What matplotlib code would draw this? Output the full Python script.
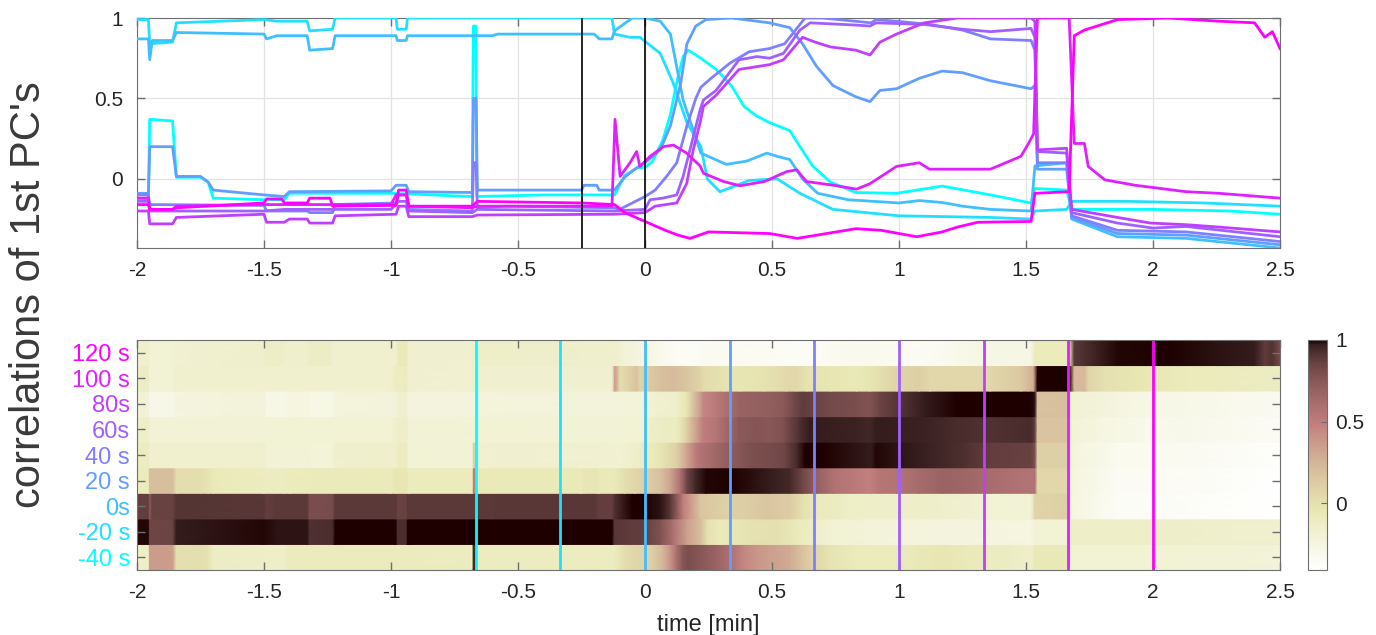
import numpy as np
import matplotlib
matplotlib.use('Agg')
import matplotlib.pyplot as plt
from matplotlib import colors

plt.rcParams['font.family'] = ['Liberation Sans', 'DejaVu Sans']
plt.rcParams['axes.unicode_minus'] = False

# lag labels of the 9 windows (bottom row first) and window centres [min]
lag_labels = ['-40 s', '-20 s', '0s', '20 s', '40 s', '60s', '80s', '100 s', '120 s']
window_centres = [-2/3, -1/3, 0, 1/3, 2/3, 1, 4/3, 5/3, 2]
event_times = [-0.25, 0]

# correlation traces: (time [min], correlation)
corr_m40 = [(-2.0, -0.13), (-1.955, -0.13), (-1.95, 0.37), (-1.86, 0.36), (-1.845, 0.01), (-1.75, 0.01),
            (-1.72, -0.02), (-1.70, -0.12), (-1.5, -0.13), (-1.42, -0.13), (-1.40, -0.09), (-1.0, -0.09),
            (-0.68, -0.11), (-0.676, 0.95), (-0.666, 0.95), (-0.662, -0.11), (-0.4, -0.10), (-0.12, -0.10),
            (-0.08, 0.02), (-0.03, 0.07), (0.0, 0.07), (0.03, 0.11), (0.07, 0.24), (0.10, 0.40), (0.125, 0.60),
            (0.15, 0.76), (0.17, 0.80), (0.22, 0.75), (0.28, 0.68), (0.34, 0.58), (0.39, 0.45), (0.44, 0.39),
            (0.49, 0.35), (0.57, 0.30), (0.61, 0.20), (0.66, 0.08), (0.73, -0.02), (0.83, -0.085), (0.99, -0.09),
            (1.17, -0.045), (1.36, -0.10), (1.52, -0.15), (1.535, -0.06), (1.66, -0.07), (1.68, -0.19),
            (1.75, -0.19), (2.0, -0.19), (2.3, -0.20), (2.5, -0.22)]
corr_m20 = [(-2.0, 0.99), (-1.955, 0.99), (-1.95, 0.84), (-1.86, 0.85), (-1.845, 0.97), (-1.5, 0.99),
            (-1.45, 0.98), (-1.33, 0.98), (-1.32, 0.92), (-1.23, 0.93), (-1.22, 1.0), (-0.98, 1.0),
            (-0.975, 0.93), (-0.94, 0.93), (-0.935, 1.0), (-0.13, 1.0), (-0.12, 0.90), (-0.06, 0.88),
            (-0.02, 0.88), (0.06, 0.78), (0.11, 0.60), (0.165, 0.35), (0.22, 0.20), (0.245, 0.0),
            (0.295, -0.08), (0.41, -0.01), (0.52, 0.0), (0.61, -0.09), (0.74, -0.19), (1.0, -0.23),
            (1.36, -0.24), (1.52, -0.25), (1.535, -0.20), (1.66, -0.19), (1.68, -0.14), (1.9, -0.14),
            (2.2, -0.15), (2.5, -0.17)]
corr_0 = [(-2.0, 0.87), (-1.955, 0.87), (-1.95, 0.74), (-1.94, 0.86), (-1.86, 0.86), (-1.845, 0.91),
          (-1.5, 0.90), (-1.49, 0.87), (-1.45, 0.89), (-1.33, 0.89), (-1.32, 0.80), (-1.23, 0.81),
          (-1.22, 0.89), (-0.98, 0.89), (-0.975, 0.86), (-0.94, 0.86), (-0.935, 0.89), (-0.6, 0.89),
          (-0.58, 0.90), (-0.2, 0.90), (-0.18, 0.87), (-0.13, 0.87), (-0.12, 0.92), (-0.05, 1.0),
          (0.0, 1.0), (0.06, 0.98), (0.10, 0.90), (0.15, 0.49), (0.22, 0.16), (0.32, 0.09), (0.40, 0.11),
          (0.48, 0.16), (0.52, 0.14), (0.57, 0.12), (0.62, 0.0), (0.68, -0.09), (0.8, -0.13), (1.0, -0.15),
          (1.08, -0.135), (1.17, -0.147), (1.25, -0.17), (1.36, -0.19), (1.52, -0.20), (1.535, 0.08),
          (1.66, 0.10), (1.68, -0.25), (1.86, -0.36), (2.13, -0.37), (2.5, -0.43)]
corr_20 = [(-2.0, -0.09), (-1.955, -0.09), (-1.95, 0.20), (-1.86, 0.20), (-1.845, 0.015), (-1.75, 0.015),
           (-1.72, -0.02), (-1.70, -0.07), (-1.5, -0.10), (-1.42, -0.11), (-1.40, -0.08), (-1.0, -0.075),
           (-0.98, -0.04), (-0.94, -0.04), (-0.93, -0.08), (-0.68, -0.085), (-0.675, 0.5), (-0.665, 0.5),
           (-0.66, -0.07), (-0.25, -0.07), (-0.24, -0.04), (-0.19, -0.04), (-0.18, -0.07), (-0.12, -0.07),
           (-0.08, 0.01), (-0.04, 0.06), (0.0, 0.10), (0.06, 0.18), (0.10, 0.33), (0.14, 0.59), (0.165, 0.84),
           (0.20, 0.95), (0.24, 0.99), (0.34, 1.0), (0.49, 0.97), (0.57, 0.94), (0.62, 0.84), (0.675, 0.70),
           (0.74, 0.58), (0.83, 0.51), (0.886, 0.48), (0.925, 0.55), (0.99, 0.56), (1.08, 0.625), (1.17, 0.67),
           (1.25, 0.66), (1.36, 0.61), (1.52, 0.56), (1.535, 0.58), (1.545, 0.06), (1.66, 0.06), (1.68, -0.24),
           (1.86, -0.34), (2.13, -0.35), (2.5, -0.41)]
corr_40 = [(-2.0, -0.10), (-1.955, -0.10), (-1.95, -0.16), (-1.5, -0.165), (-1.49, -0.20), (-1.33, -0.20),
           (-1.32, -0.21), (-1.23, -0.21), (-1.22, -0.16), (-0.98, -0.15), (-0.97, -0.10), (-0.94, -0.10),
           (-0.93, -0.19), (-0.68, -0.20), (-0.675, 0.10), (-0.665, 0.10), (-0.66, -0.18), (-0.55, -0.17),
           (-0.12, -0.18), (-0.10, -0.19), (0.0, -0.11), (0.04, -0.07), (0.085, 0.015), (0.125, 0.10),
           (0.165, 0.33), (0.20, 0.50), (0.22, 0.57), (0.26, 0.625), (0.335, 0.72), (0.41, 0.79), (0.49, 0.81),
           (0.55, 0.84), (0.60, 0.94), (0.63, 1.0), (0.70, 1.0), (0.89, 0.97), (0.91, 0.99), (0.99, 0.98),
           (1.12, 0.96), (1.25, 0.925), (1.36, 0.87), (1.52, 0.86), (1.535, 0.80), (1.545, 0.10), (1.66, 0.10),
           (1.68, -0.23), (1.86, -0.32), (2.13, -0.33), (2.5, -0.39)]
corr_60 = [(-2.0, -0.14), (-1.955, -0.14), (-1.95, -0.20), (-1.5, -0.20), (-1.42, -0.19), (-1.0, -0.19),
           (-0.97, -0.14), (-0.94, -0.14), (-0.93, -0.20), (-0.68, -0.21), (-0.66, -0.19), (-0.12, -0.20),
           (0.0, -0.19), (0.02, -0.13), (0.07, -0.12), (0.125, -0.10), (0.15, 0.015), (0.177, 0.18),
           (0.217, 0.43), (0.23, 0.49), (0.28, 0.55), (0.37, 0.74), (0.44, 0.76), (0.49, 0.75), (0.545, 0.78),
           (0.61, 0.925), (0.65, 0.97), (0.83, 0.956), (0.886, 0.95), (0.91, 0.97), (1.1, 0.96), (1.25, 0.93),
           (1.36, 0.915), (1.52, 0.935), (1.535, 0.88), (1.545, 0.17), (1.66, 0.16), (1.68, -0.21),
           (1.86, -0.275), (2.0, -0.306), (2.13, -0.296), (2.5, -0.36)]
corr_80 = [(-2.0, -0.20), (-1.955, -0.20), (-1.95, -0.28), (-1.86, -0.28), (-1.845, -0.24), (-1.5, -0.22),
           (-1.49, -0.27), (-1.42, -0.27), (-1.40, -0.25), (-1.33, -0.25), (-1.32, -0.275), (-1.23, -0.275),
           (-1.22, -0.23), (-0.98, -0.22), (-0.97, -0.17), (-0.94, -0.17), (-0.93, -0.235), (-0.68, -0.235),
           (-0.66, -0.225), (-0.12, -0.22), (0.0, -0.21), (0.04, -0.17), (0.125, -0.15), (0.164, -0.03),
           (0.19, 0.18), (0.217, 0.35), (0.23, 0.45), (0.28, 0.52), (0.37, 0.68), (0.49, 0.71), (0.545, 0.74),
           (0.62, 0.88), (0.67, 0.85), (0.73, 0.82), (0.83, 0.80), (0.886, 0.77), (0.925, 0.85), (0.99, 0.90),
           (1.1, 0.97), (1.23, 1.0), (1.52, 1.0), (1.535, 0.98), (1.545, 0.18), (1.66, 0.19), (1.68, -0.19),
           (1.86, -0.24), (1.99, -0.275), (2.13, -0.285), (2.26, -0.30), (2.5, -0.33)]
corr_100 = [(-2.0, -0.12), (-1.955, -0.12), (-1.95, -0.19), (-1.86, -0.19), (-1.845, -0.17), (-1.5, -0.16),
            (-1.0, -0.16), (-0.98, -0.10), (-0.94, -0.10), (-0.93, -0.17), (-0.68, -0.18), (-0.66, -0.17),
            (-0.13, -0.17), (-0.118, 0.37), (-0.098, 0.015), (-0.059, 0.10), (-0.033, 0.17), (-0.02, 0.077),
            (0.02, 0.14), (0.072, 0.20), (0.112, 0.21), (0.164, 0.16), (0.217, 0.08), (0.23, 0.035),
            (0.31, -0.017), (0.374, -0.043), (0.47, -0.017), (0.558, 0.045), (0.597, 0.056), (0.636, -0.017),
            (0.73, -0.037), (0.833, -0.064), (0.886, -0.03), (0.99, 0.077), (1.08, 0.10), (1.12, 0.06),
            (1.36, 0.06), (1.48, 0.14), (1.51, 0.22), (1.53, 0.28), (1.545, 1.0), (1.67, 1.0), (1.69, 0.22),
            (1.73, 0.22), (1.745, 0.077), (1.81, -0.006), (1.93, -0.04), (2.13, -0.08), (2.26, -0.09),
            (2.5, -0.12)]
corr_120 = [(-2.0, -0.16), (-1.955, -0.16), (-1.95, -0.19), (-1.86, -0.19), (-1.845, -0.18), (-1.5, -0.15),
            (-1.49, -0.125), (-1.43, -0.125), (-1.42, -0.15), (-1.33, -0.15), (-1.32, -0.12), (-1.24, -0.12),
            (-1.23, -0.17), (-0.98, -0.165), (-0.97, -0.07), (-0.94, -0.07), (-0.93, -0.17), (-0.68, -0.17),
            (-0.66, -0.14), (-0.25, -0.15), (-0.12, -0.16), (-0.08, -0.21), (0.0, -0.265), (0.08, -0.32),
            (0.13, -0.35), (0.177, -0.37), (0.25, -0.33), (0.49, -0.34), (0.6, -0.37), (0.83, -0.31),
            (0.93, -0.32), (1.07, -0.36), (1.17, -0.33), (1.23, -0.30), (1.31, -0.27), (1.52, -0.265),
            (1.535, -0.09), (1.67, -0.08), (1.69, 0.89), (1.73, 0.925), (1.86, 0.99), (2.06, 1.0),
            (2.26, 0.98), (2.4, 0.97), (2.44, 0.88), (2.47, 0.915), (2.5, 0.81)]

series = [corr_m40, corr_m20, corr_0, corr_20, corr_40, corr_60, corr_80, corr_100, corr_120]

if __name__ == "__main__":

    W, H = 1376, 635
    cols = plt.cm.cool(np.linspace(0, 1, len(series)))
    norm = colors.Normalize(vmin=-0.41, vmax=1)
    cmap = plt.get_cmap('pink_r')
    axcol = '#6e6e6e'
    txtcol = '#262626'

    fig = plt.figure(figsize=(W/100, H/100), dpi=100)
    ax1 = fig.add_axes([137/W, 1-248/H, 1143/W, 230/H])
    ax2 = fig.add_axes([137/W, 1-570/H, 1143/W, 230/H])
    cax = fig.add_axes([1308/W, 1-570/H, 19/W, 230/H])

    for i, s in enumerate(series):
        t, v = np.array(s).T
        ax1.plot(t, v, color=cols[i], lw=2.0, zorder=3)
        yy = np.vstack([np.full_like(t, i - 0.5), np.full_like(t, i + 0.5)])
        ax2.pcolormesh(np.vstack([t, t]), yy, np.vstack([v, v]), shading='gouraud',
                       cmap=cmap, norm=norm)

    for te in event_times:
        ax1.axvline(te, color='k', lw=1.2, zorder=4)
    for i, tc in enumerate(window_centres):
        ax2.axvline(tc, color=cols[i], lw=2)

    xt = np.arange(-2, 2.51, 0.5)
    for ax in (ax1, ax2):
        ax.set_xlim(-2, 2.5)
        ax.set_xticks(xt)
        ax.set_xticklabels([f'{x:g}' for x in xt])
        ax.tick_params(direction='in', top=True, right=True, length=6, width=1,
                       labelsize=15, color=axcol, labelcolor=txtcol)
        ax.tick_params(axis='x', pad=9)
        for sp in ax.spines.values():
            sp.set_color(axcol)

    ax1.set_ylim(-0.43, 1)
    ax1.set_yticks([0, 0.5, 1])
    ax1.set_yticklabels(['0', '0.5', '1'])
    ax1.tick_params(axis='y', pad=10)
    ax1.grid(True, color='#e3e3e3', lw=0.9, zorder=0)
    ax1.set_axisbelow(True)

    ax2.set_ylim(-0.5, len(series) - 0.5)
    ax2.set_yticks(range(len(series)))
    ax2.set_yticklabels(lag_labels)
    ax2.tick_params(axis='y', labelsize=17, pad=5)
    for lab, c in zip(ax2.get_yticklabels(), cols):
        lab.set_color(c)
    ax2.set_xlabel('time [min]', fontsize=17, color=txtcol, labelpad=9)

    sm = plt.cm.ScalarMappable(norm=norm, cmap=cmap)
    cb = fig.colorbar(sm, cax=cax, ticks=[0, 0.5, 1])
    cb.ax.set_yticklabels(['0', '0.5', '1'])
    cb.ax.tick_params(direction='in', length=4, labelsize=15, color=axcol, labelcolor=txtcol, pad=6)
    cb.outline.set_edgecolor(axcol)

    fig.text(29/W, 1 - 295/H, "correlations of 1st PC's", rotation=90, ha='center', va='center',
             fontsize=30, color='#3a3a3a')

    plt.savefig('out.png', dpi=100)
